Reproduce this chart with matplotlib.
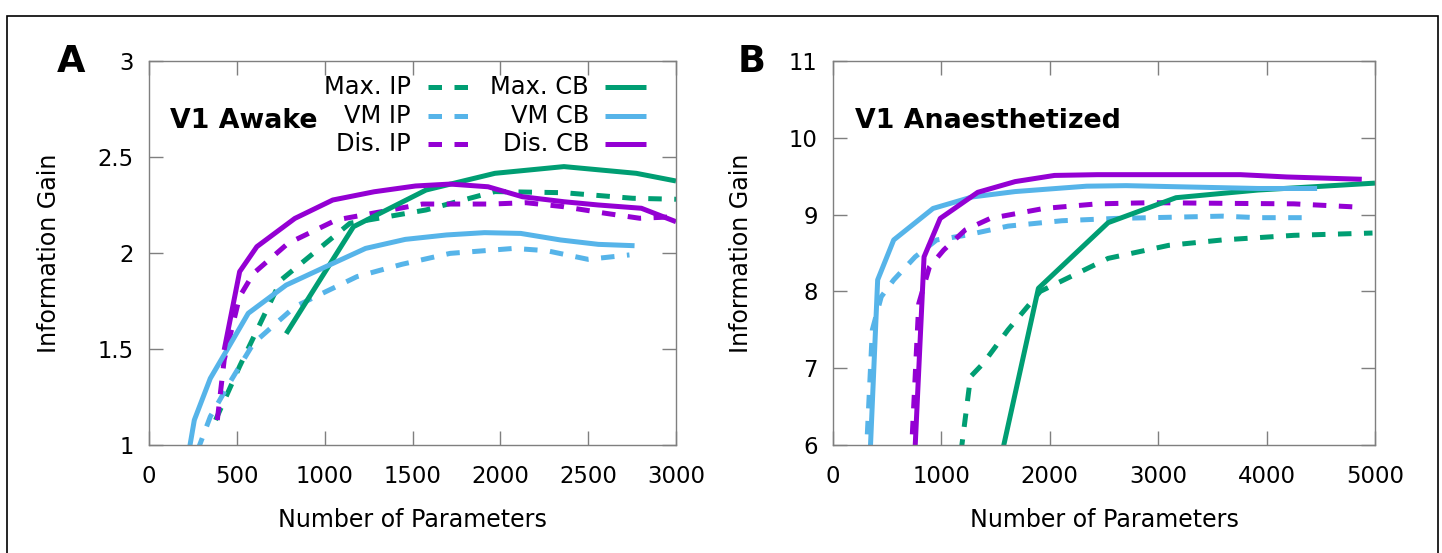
import matplotlib
matplotlib.use("Agg")
import matplotlib.pyplot as plt
from matplotlib.patches import Rectangle

# colours (gnuplot default palette)
GREEN = "#009e73"
BLUE = "#56b4e9"
PURPLE = "#9400d3"

# ---- panel A: V1 awake ----
a_max_ip_x = [379, 516, 752, 1144, 1576, 1969, 2362, 2754, 3000]
a_max_ip_y = [1.13, 1.41, 1.86, 2.155, 2.224, 2.32, 2.314, 2.285, 2.28]
a_max_cb_x = [781, 1164, 1577, 1969, 2362, 2774, 3000]
a_max_cb_y = [1.58, 2.137, 2.328, 2.415, 2.45, 2.415, 2.375]
a_vm_ip_x = [276, 349, 457, 595, 830, 987, 1184, 1439, 1714, 2077, 2264, 2499, 2735]
a_vm_ip_y = [0.97, 1.148, 1.321, 1.53, 1.72, 1.79, 1.877, 1.941, 1.998, 2.024, 2.012, 1.967, 1.99]
a_vm_cb_x = [228, 258, 349, 438, 565, 781, 1007, 1233, 1459, 1694, 1910, 2116, 2342, 2558, 2764]
a_vm_cb_y = [0.97, 1.13, 1.347, 1.486, 1.686, 1.833, 1.929, 2.024, 2.071, 2.094, 2.106, 2.102,
             2.068, 2.045, 2.038]
a_dis_ip_x = [389, 428, 516, 595, 791, 1066, 1321, 1557, 1949, 2146, 2362, 2597, 2793, 3000]
a_dis_ip_y = [1.13, 1.443, 1.773, 1.894, 2.05, 2.172, 2.215, 2.255, 2.255, 2.262, 2.241, 2.207,
              2.181, 2.189]
a_dis_cb_x = [428, 516, 614, 830, 1046, 1282, 1517, 1714, 1930, 2126, 2362, 2558, 2803, 3000]
a_dis_cb_y = [1.495, 1.903, 2.033, 2.18, 2.276, 2.319, 2.349, 2.359, 2.345, 2.293, 2.267, 2.25,
              2.233, 2.163]

# ---- panel B: V1 anaesthetized ----
b_max_ip_x = [1180, 1269, 1384, 1615, 1912, 2538, 3098, 3592, 4251, 4977]
b_max_ip_y = [5.9, 6.89, 7.06, 7.5, 8.0, 8.43, 8.60, 8.67, 8.73, 8.76]
b_max_cb_x = [1560, 1895, 2538, 3164, 3922, 5000]
b_max_cb_y = [5.9, 8.04, 8.895, 9.22, 9.32, 9.41]
b_vm_ip_x = [305, 363, 445, 560, 758, 956, 1220, 1615, 2110, 2604, 3263, 3592, 3922, 4383]
b_vm_ip_y = [5.8, 7.5, 7.93, 8.15, 8.45, 8.67, 8.73, 8.85, 8.92, 8.95, 8.97, 8.98, 8.96, 8.96]
b_vm_cb_x = [340, 412, 560, 923, 1285, 1681, 2340, 2703, 3263, 3922, 4466]
b_vm_cb_y = [5.8, 8.15, 8.67, 9.08, 9.23, 9.30, 9.37, 9.377, 9.36, 9.34, 9.34]
b_dis_ip_x = [720, 791, 890, 1022, 1220, 1450, 1945, 2439, 2934, 3592, 4251, 4812]
b_dis_ip_y = [5.8, 7.84, 8.32, 8.54, 8.8, 8.95, 9.08, 9.14, 9.155, 9.147, 9.14, 9.10]
b_dis_cb_x = [752, 840, 989, 1335, 1681, 2043, 2439, 2934, 3758, 4186, 4878]
b_dis_cb_y = [5.8, 8.45, 8.95, 9.29, 9.43, 9.51, 9.52, 9.52, 9.52, 9.49, 9.46]

a_xticks = [0, 500, 1000, 1500, 2000, 2500, 3000]
a_yticks = [1, 1.5, 2, 2.5, 3]
a_yticklabels = ["1", "1.5", "2", "2.5", "3"]
b_xticks = [0, 1000, 2000, 3000, 4000, 5000]
b_yticks = [6, 7, 8, 9, 10, 11]

legend_labels = [("Max. IP", GREEN, "--"), ("VM IP", BLUE, "--"), ("Dis. IP", PURPLE, "--"),
                 ("Max. CB", GREEN, "-"), ("VM CB", BLUE, "-"), ("Dis. CB", PURPLE, "-")]

LW = 3.6
DASH = (2.7, 2.5)
TICK_FS = 16.4
LABEL_FS = 17.1
LEG_FS = 17.4
TITLE_FS = 19.3
SPINE = "#7f7f7f"

plt.rcParams["font.family"] = "DejaVu Sans"

fig = plt.figure(figsize=(14.42, 5.53), dpi=100)
# outer frame
fig.patches.append(Rectangle((7 / 1442, -0.05), 1431 / 1442, 1.05 - 16 / 553,
                             transform=fig.transFigure, fill=False,
                             edgecolor="black", linewidth=1.2))

ax_a = fig.add_axes([149 / 1442, 108 / 553, 527 / 1442, 384 / 553])
ax_b = fig.add_axes([833 / 1442, 108 / 553, 542 / 1442, 384 / 553])


def draw(ax, x, y, color, ls):
    line, = ax.plot(x, y, color=color, lw=LW, solid_capstyle="butt")
    if ls == "--":
        line.set_dashes(DASH)
        line.set_dash_capstyle("butt")
    return line


def style(ax, xlim, ylim, xticks, yticks, yticklabels=None):
    ax.set_xlim(*xlim)
    ax.set_ylim(*ylim)
    ax.set_xticks(xticks)
    ax.set_yticks(yticks)
    if yticklabels:
        ax.set_yticklabels(yticklabels)
    for s in ax.spines.values():
        s.set_color(SPINE)
        s.set_linewidth(1.0)
    ax.tick_params(direction="in", length=10, width=1.0, color=SPINE,
                   top=True, right=True, labelsize=TICK_FS)
    ax.tick_params(axis="x", pad=14.5)
    ax.tick_params(axis="y", pad=11)
    ax.set_xlabel("Number of Parameters", fontsize=LABEL_FS, labelpad=14)
    ax.set_ylabel("Information Gain", fontsize=LABEL_FS, labelpad=26)


# panel A
draw(ax_a, a_max_ip_x, a_max_ip_y, GREEN, "--")
draw(ax_a, a_vm_ip_x, a_vm_ip_y, BLUE, "--")
draw(ax_a, a_dis_ip_x, a_dis_ip_y, PURPLE, "--")
draw(ax_a, a_max_cb_x, a_max_cb_y, GREEN, "-")
draw(ax_a, a_vm_cb_x, a_vm_cb_y, BLUE, "-")
draw(ax_a, a_dis_cb_x, a_dis_cb_y, PURPLE, "-")
style(ax_a, (0, 3000), (1, 3), a_xticks, a_yticks, a_yticklabels)
ax_a.text(0.04, 0.845, "V1 Awake", transform=ax_a.transAxes, fontsize=TITLE_FS,
          fontweight="bold", va="center", ha="left")

# legend drawn gnuplot-style: right-aligned text then the sample line
rows_y = [0.931, 0.857, 0.783]
cols = [(0.497, 0.529, 0.607), (0.835, 0.865, 0.943)]
for i, (lab, col, ls) in enumerate(legend_labels):
    tx, x0, x1 = cols[i // 3]
    yy = rows_y[i % 3]
    ax_a.text(tx, yy, lab, transform=ax_a.transAxes, fontsize=LEG_FS, ha="right", va="center")
    ln, = ax_a.plot([x0, x1], [yy, yy], transform=ax_a.transAxes, color=col, lw=LW,
                    solid_capstyle="butt")
    if ls == "--":
        ln.set_dashes(DASH)
        ln.set_dash_capstyle("butt")

# panel B
draw(ax_b, b_max_ip_x, b_max_ip_y, GREEN, "--")
draw(ax_b, b_vm_ip_x, b_vm_ip_y, BLUE, "--")
draw(ax_b, b_dis_ip_x, b_dis_ip_y, PURPLE, "--")
draw(ax_b, b_max_cb_x, b_max_cb_y, GREEN, "-")
draw(ax_b, b_vm_cb_x, b_vm_cb_y, BLUE, "-")
draw(ax_b, b_dis_cb_x, b_dis_cb_y, PURPLE, "-")
style(ax_b, (0, 5000), (6, 11), b_xticks, b_yticks)
ax_b.text(0.04, 0.845, "V1 Anaesthetized", transform=ax_b.transAxes, fontsize=TITLE_FS,
          fontweight="bold", va="center", ha="left")

# panel letters
fig.text(71 / 1442, 1 - 62 / 553, "A", fontsize=26.5, fontweight="bold", ha="center", va="center")
fig.text(752 / 1442, 1 - 62 / 553, "B", fontsize=26.5, fontweight="bold", ha="center", va="center")

fig.savefig("out.png", dpi=100)
